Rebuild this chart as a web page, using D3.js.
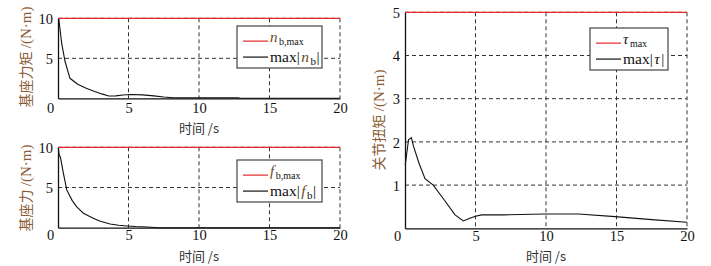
<!DOCTYPE html>
<html><head><meta charset="utf-8">
<script src="https://cdn.jsdelivr.net/npm/d3@7"></script>
<style>
body{margin:0;background:#fff;}
svg{display:block;}
</style></head><body>
<svg id="c" width="711" height="266"></svg>
<script>
// ---- data ----
const xTicks = [0, 5, 10, 15, 20];
const nbTime = [0.05, 0.26, 0.5, 0.85, 1.4, 2.0, 2.6, 3.1, 3.6, 4.1, 4.6, 5.2, 6.0, 6.8, 7.5, 8.2, 8.6, 12.8, 12.9, 20];
const nbVal  = [10, 6.9, 4.6, 2.5, 1.75, 1.25, 0.85, 0.55, 0.28, 0.3, 0.42, 0.47, 0.43, 0.3, 0.17, 0.07, 0.05, 0.05, 0.0, 0.0];
const nbMax = 10;
const fbTime = [0.02, 0.08, 0.18, 0.38, 0.62, 1.0, 1.33, 1.8, 2.5, 3.0, 3.7, 4.3, 4.9, 5.5, 6.3, 6.9, 7.1, 20];
const fbVal  = [9.9, 9.1, 8.7, 6.8, 4.7, 3.4, 2.6, 1.8, 1.17, 0.8, 0.46, 0.3, 0.21, 0.14, 0.08, 0.03, 0.0, 0.0];
const fbMax = 10;
const tauTime = [0.02, 0.25, 0.45, 0.6, 1.0, 1.42, 2.0, 2.8, 3.55, 4.14, 4.6, 5.0, 5.44, 7.0, 9.9, 12.3, 14.9, 17.5, 20];
const tauVal  = [1.47, 2.05, 2.1, 1.9, 1.5, 1.15, 1.0, 0.65, 0.31, 0.17, 0.23, 0.28, 0.31, 0.31, 0.33, 0.33, 0.27, 0.2, 0.14];
const tauMax = 5;

const svg = d3.select("#c");
const serif = '"Liberation Serif","Times New Roman",serif';
const cjk = '"Noto Sans CJK SC",sans-serif';
const labelColor = "#8a5a35";

function panel(o){
  const x = d3.scaleLinear().domain([0,20]).range([o.x0,o.x1]);
  const y = d3.scaleLinear().domain([0,o.ymax]).range([o.y1,o.y0]);
  const g = svg.append("g");
  // grid
  g.selectAll(".gv").data(xTicks.filter(d=>d>0)).join("line")
    .attr("x1",d=>x(d)).attr("x2",d=>x(d)).attr("y1",o.y0).attr("y2",o.y1)
    .attr("stroke","#333").attr("stroke-width",1).attr("stroke-dasharray","4,3");
  g.selectAll(".gh").data(o.yTicks.filter(d=>d>0)).join("line")
    .attr("x1",o.x0).attr("x2",o.x1).attr("y1",d=>y(d)).attr("y2",d=>y(d))
    .attr("stroke","#333").attr("stroke-width",1).attr("stroke-dasharray","4,3");
  // axes
  const xa = g.append("g").attr("transform",`translate(0,${o.y1})`)
    .call(d3.axisBottom(x).tickValues(xTicks).tickFormat(d3.format("d")).tickSize(0).tickPadding(o.tp));
  xa.select(".domain").attr("stroke","#111").attr("stroke-width",1.3);
  xa.selectAll(".tick").filter(d=>d===0).select("text").attr("dx",-8);
  const ya = g.append("g").attr("transform",`translate(${o.x0},0)`)
    .call(d3.axisLeft(y).tickValues(o.yTicks.filter(d=>d>0)).tickFormat(d3.format("d")).tickSize(0).tickPadding(5));
  ya.select(".domain").attr("stroke","#111").attr("stroke-width",1.3);
  ya.selectAll(".tick text").attr("dy","0.36em");
  g.selectAll(".tick text").attr("font-family",serif).attr("font-size",14.5).attr("fill","#111");
  // data
  const line = d3.line().x(d=>x(d[0])).y(d=>y(d[1]));
  g.append("path").datum(o.t.map((t,i)=>[t,o.v[i]])).attr("d",line)
    .attr("fill","none").attr("stroke","#111").attr("stroke-width",1.1);
  g.append("line").attr("x1",x(0)).attr("x2",x(20)).attr("y1",y(o.max)).attr("y2",y(o.max))
    .attr("stroke","#e8262a").attr("stroke-width",1.3);
  // titles
  g.append("text").attr("x",(o.x0+o.x1)/2).attr("y",o.y1+o.to)
    .attr("text-anchor","middle").attr("font-family",cjk).attr("font-size",13).attr("fill","#333")
    .text("时间 /s");
  const yl = g.append("text").attr("transform",`translate(${o.ylx},${o.yly}) rotate(-90)`)
    .attr("text-anchor","middle").attr("font-family",cjk).attr("font-size",14).attr("fill",labelColor);
  yl.append("tspan").text(o.ylabel.split(" ")[0]+" ");
  yl.append("tspan").attr("font-family",serif).attr("font-size",15).text(o.ylabel.split(" ")[1]);
  // legend
  const L = o.leg;
  g.append("rect").attr("x",L.x).attr("y",L.y).attr("width",L.w).attr("height",L.h)
    .attr("fill","#fff").attr("stroke","#444").attr("stroke-width",1.2);
  const ly1 = L.y + L.h*0.36, ly2 = L.y + L.h*0.74;
  g.append("line").attr("x1",L.x+6).attr("x2",L.x+31).attr("y1",ly1).attr("y2",ly1).attr("stroke","#e8262a").attr("stroke-width",1.2);
  g.append("line").attr("x1",L.x+6).attr("x2",L.x+31).attr("y1",ly2).attr("y2",ly2).attr("stroke","#111").attr("stroke-width",1.2);
  const t1 = g.append("text").attr("x",L.x+33).attr("y",ly1+1).attr("font-family",serif).attr("font-size",15).attr("fill","#111");
  t1.append("tspan").attr("font-style","italic").attr("fill",o.symColor).text(o.sym);
  t1.append("tspan").attr("font-size",10).attr("dy",3).attr("dx",1.5).text(o.sub1);
  const t2 = g.append("text").attr("x",L.x+33).attr("y",ly2+5).attr("font-family",serif).attr("font-size",15.5).attr("fill","#111");
  t2.append("tspan").text("max|");
  t2.append("tspan").attr("font-style","italic").attr("dx",1.5).attr("fill",o.symColor).text(o.sym);
  if(o.sub2){ t2.append("tspan").attr("font-size",11).attr("dy",3).attr("dx",1.5).text(o.sub2); t2.append("tspan").attr("dy",-3).attr("dx",0.5).text("|"); }
  else t2.append("tspan").attr("dx",1.5).text("|");
}

panel({x0:58,x1:340,y0:18.3,y1:98.3,ymax:10,yTicks:[0,5,10],t:nbTime,v:nbVal,max:nbMax,tp:4,to:35,
  ylx:31,yly:57,ylabel:"基座力矩 /(N·m)",sym:"n",sub1:"b,max",sub2:"b",symColor:"#6b4a20",
  leg:{x:237,y:26,w:85,h:42}});
panel({x0:58,x1:340,y0:147.3,y1:227.7,ymax:10,yTicks:[0,5,10],t:fbTime,v:fbVal,max:fbMax,tp:2,to:33,
  ylx:31,yly:188,ylabel:"基座力 /(N·m)",sym:"f",sub1:"b,max",sub2:"b",symColor:"#6b4a20",
  leg:{x:237,y:160,w:85,h:42}});
panel({x0:405,x1:687,y0:12.3,y1:228.3,ymax:5,yTicks:[0,1,2,3,4,5],t:tauTime,v:tauVal,max:tauMax,tp:2,to:33,
  ylx:384,yly:120,ylabel:"关节扭矩 /(N·m)",sym:"τ",sub1:"max",sub2:null,symColor:"#111",
  leg:{x:590,y:28,w:78,h:42}});
</script></body></html>
